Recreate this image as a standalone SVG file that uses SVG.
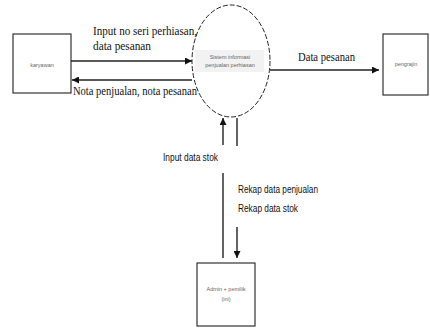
<svg xmlns="http://www.w3.org/2000/svg" width="430" height="328" viewBox="0 0 430 328">
<style>
.box{fill:#fff;stroke:#333;stroke-width:1.2}
.ntext{font-family:"Liberation Sans",Arial,sans-serif;font-size:5.5px;fill:#666;text-anchor:middle}
.lbl{font-family:"Liberation Serif","Times New Roman",serif;font-size:12px;fill:#111}
.lbl2{font-family:"Liberation Sans",Arial,sans-serif;font-size:10px;fill:#111}
.ln{stroke:#222;stroke-width:1.4;fill:none}
</style>
<defs>
<marker id="ah" viewBox="0 0 10 10" refX="10" refY="5" markerWidth="7" markerHeight="7" markerUnits="userSpaceOnUse" orient="auto">
<path d="M0,0 L10,5 L0,10 z" fill="#111"/>
</marker>
</defs>
<rect width="430" height="328" fill="#fff"/>
<g id="karyawan">
<rect class="box" x="13" y="34" width="58" height="59"/>
<text class="ntext" x="42" y="67">karyawan</text>
</g>
<g id="sistem">
<ellipse cx="231" cy="61" rx="39" ry="56" fill="#fff" stroke="#222" stroke-width="1" stroke-dasharray="5,2"/>
<rect x="195" y="50" width="69" height="22" fill="#f2f2f2"/>
<text class="ntext" x="230" y="59">Sistem informasi</text>
<text class="ntext" x="230" y="67">penjualan perhiasan</text>
</g>
<g id="pengrajin">
<rect class="box" x="383" y="34" width="45" height="61"/>
<text class="ntext" x="406" y="66">pengrajin</text>
</g>
<g id="admin">
<rect class="box" x="197" y="263" width="58" height="63"/>
<text class="ntext" x="226" y="291">Admin + pemilik</text>
<text class="ntext" x="226" y="301">(ini)</text>
</g>
<g id="connectors">
<line class="ln" x1="71" y1="61" x2="192" y2="61" stroke-width="2" marker-end="url(#ah)"/>
<line class="ln" x1="192" y1="80" x2="72" y2="80" marker-end="url(#ah)"/>
<line class="ln" x1="270" y1="70" x2="379" y2="70" marker-end="url(#ah)"/>
<line class="ln" x1="223" y1="145" x2="223" y2="118" stroke-width="2" marker-end="url(#ah)"/>
<line class="ln" x1="223" y1="173" x2="223" y2="258"/>
<line class="ln" x1="237" y1="118" x2="237" y2="146"/>
<line class="ln" x1="237" y1="227" x2="237" y2="258" marker-end="url(#ah)"/>
<text class="lbl" x="93" y="35" textLength="104" lengthAdjust="spacingAndGlyphs">Input no seri perhiasan,</text>
<text class="lbl" x="93" y="50" textLength="58" lengthAdjust="spacingAndGlyphs">data pesanan</text>
<text class="lbl" x="73" y="95" textLength="124" lengthAdjust="spacingAndGlyphs">Nota penjualan, nota pesanan</text>
<text class="lbl" x="298" y="61" textLength="57" lengthAdjust="spacingAndGlyphs">Data pesanan</text>
<text class="lbl2" x="163" y="161" textLength="55" lengthAdjust="spacingAndGlyphs">Input data stok</text>
<text class="lbl2" x="238" y="193" textLength="80" lengthAdjust="spacingAndGlyphs">Rekap data penjualan</text>
<text class="lbl2" x="238" y="212" textLength="60" lengthAdjust="spacingAndGlyphs">Rekap data stok</text>
</g>
</svg>
